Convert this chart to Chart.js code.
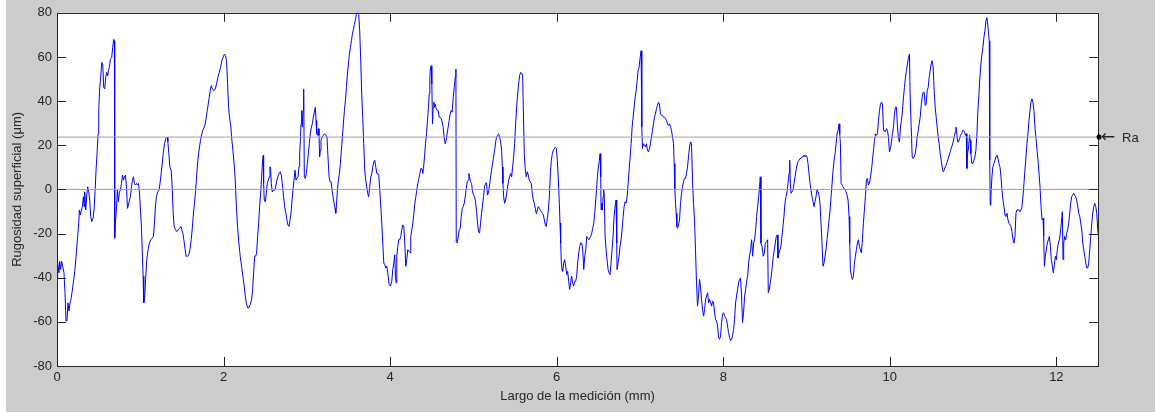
<!DOCTYPE html>
<html>
<head>
<meta charset="utf-8">
<script src="https://cdn.jsdelivr.net/npm/chart.js@4.4.0/dist/chart.umd.min.js"></script>
<style>
  html, body { margin: 0; padding: 0; background: #fff; }
  canvas { display: block; }
</style>
</head>
<body>
<canvas id="perfil" width="1155" height="413"></canvas>
<script>
// ---------------- datos del perfil (x en mm, y en µm) ----------------
const xA = [0.000,0.008,0.024,0.032,0.044,0.056,0.068,0.084,
  0.096,0.108,0.120,0.132,0.144,0.156,0.168,0.180,
  0.196,0.216,0.232,0.248,0.261,0.269,0.281,0.293,
  0.305,0.317,0.325,0.333,0.345,0.357,0.369,0.381,
  0.393,0.405,0.417,0.433,0.445,0.457,0.469,0.481,
  0.493,0.501,0.513,0.525,0.537,0.549,0.561,0.573,
  0.585,0.597,0.609,0.617,0.629,0.641,0.657,0.669,
  0.681,0.689,0.693,0.701,0.713,0.725,0.737,0.749,
  0.762,0.774,0.786,0.798,0.810,0.822,0.834,0.846,
  0.858,0.870,0.882,0.894,0.906,0.918,0.930,0.942,
  0.954,0.966,0.978,0.990,1.002,1.014,1.026,1.034,
  1.042,1.054,1.066,1.078,1.094,1.110,1.126,1.142,
  1.158,1.170,1.182,1.194,1.210,1.226,1.242,1.259,
  1.275,1.291,1.307,1.323,1.331,1.343,1.355,1.371,
  1.383,1.395,1.407,1.423,1.439,1.455,1.471,1.487,
  1.499,1.511,1.523,1.539,1.551,1.567,1.583,1.599,
  1.611,1.623,1.635,1.651,1.663,1.679,1.695,1.711,
  1.723,1.739,1.751,1.767,1.780,1.792,1.804,1.816,
  1.828,1.840,1.852,1.868,1.884,1.900,1.916,1.932,
  1.948,1.964,1.980,2.000,2.012,2.024,2.036,2.048,
  2.060,2.072,2.088,2.100,2.112,2.128,2.140];
const yA = [-40.8,-33.3,-37.8,-32.6,-36.3,-32.6,-34.8,-37.8,
  -46.8,-59.6,-59.6,-51.4,-55.1,-51.4,-49.8,-46.8,
  -42.3,-36.3,-28.8,-21.3,-15.3,-9.3,-11.6,-9.3,
  -7.8,-3.3,-7.8,-1.1,-9.3,-2.6,1.2,-1.1,
  -4.8,-12.3,-14.6,-13.1,-9.3,-1.1,8.7,16.2,
  25.2,35.7,46.2,50.8,57.5,56.8,46.2,45.5,
  50.8,53.0,51.5,53.8,55.3,59.0,59.8,64.3,
  68.0,67.3,-22.1,-15.3,-9.3,-0.3,-5.6,-1.1,
  -0.3,2.7,6.5,4.2,5.7,6.5,1.2,-8.6,
  -7.1,-4.8,-3.3,1.2,4.2,5.7,2.7,2.0,
  2.7,2.0,2.7,-1.1,-9.3,-16.8,-30.3,-39.3,
  -51.4,-48.3,-39.3,-31.8,-27.3,-24.3,-22.8,-22.1,
  -21.3,-15.3,-7.8,-3.3,-1.1,-0.3,4.2,10.2,
  16.2,20.7,23.0,23.7,21.5,16.2,10.2,8.7,
  1.2,-10.8,-16.8,-18.3,-19.1,-18.3,-17.6,-16.8,
  -18.3,-19.8,-22.8,-27.3,-30.3,-30.3,-29.6,-26.6,
  -22.8,-18.3,-12.3,-6.3,-1.1,7.2,14.7,19.2,
  22.2,25.2,26.7,28.2,29.7,32.7,35.7,38.7,
  41.7,44.7,47.0,45.5,44.7,45.5,47.7,50.8,
  53.0,55.3,58.3,60.5,61.3,60.5,58.3,48.5,
  37.2,32.7,28.2,22.2,17.7,11.0,4.2];

const xB = [2.152,2.168,2.184,2.200,2.216,2.232,2.248,2.261,
  2.273,2.289,2.305,2.321,2.337,2.349,2.361,2.373,
  2.385,2.397,2.409,2.421,2.433,2.445,2.457,2.469,
  2.477,2.481,2.489,2.501,2.513,2.525,2.537,2.549,
  2.557,2.565,2.573,2.585,2.601,2.617,2.629,2.641,
  2.653,2.665,2.681,2.693,2.705,2.721,2.733,2.749,
  2.761,2.773,2.786,2.798,2.810,2.822,2.834,2.846,
  2.858,2.870,2.882,2.894,2.906,2.914,2.922,2.930,
  2.938,2.946,2.954,2.962,2.970,2.982,2.994,3.006,
  3.018,3.030,3.042,3.054,3.066,3.078,3.090,3.102,
  3.110,3.118,3.130,3.138,3.146,3.154,3.162,3.170,
  3.182,3.198,3.214,3.230,3.242,3.254,3.267,3.279,
  3.291,3.303,3.315,3.327,3.339,3.347,3.355,3.367,
  3.379,3.391,3.403,3.415,3.427,3.439,3.451,3.463,
  3.475,3.487,3.499,3.511,3.523,3.535,3.547,3.559,
  3.571,3.583,3.595,3.607,3.623,3.635,3.647,3.659,
  3.671,3.683,3.695,3.707,3.719,3.731,3.743,3.755,
  3.768,3.780,3.792,3.804,3.816,3.828,3.840,3.852,
  3.864,3.876,3.888,3.900,3.912,3.924,3.936,3.948,
  3.960,3.972,3.988,4.004,4.020,4.032,4.044,4.056,
  4.064,4.072,4.080,4.092,4.104,4.116,4.128,4.140,
  4.152,4.164,4.176,4.188,4.200,4.212,4.228,4.244];
const yB = [-6.3,-16.8,-24.3,-30.3,-34.8,-39.3,-43.8,-48.3,
  -51.4,-53.6,-53.6,-52.1,-49.8,-45.3,-37.8,-30.3,
  -30.3,-28.8,-21.3,-15.3,-7.8,-1.8,5.7,13.2,
  15.5,2.7,-4.8,-5.6,-1.8,2.7,4.2,5.7,
  10.2,9.5,2.7,-1.1,-0.3,-0.3,2.0,4.2,
  5.7,7.2,8.0,6.5,2.7,-3.3,-7.8,-10.8,
  -13.8,-16.1,-16.8,-13.8,-10.8,-4.8,-0.3,4.2,
  8.7,4.2,5.0,5.7,10.2,16.2,22.2,29.7,
  35.7,28.2,35.7,45.5,5.7,5.0,7.2,11.7,
  16.2,20.7,25.2,28.2,29.7,32.7,35.0,37.2,
  31.2,25.2,24.5,27.5,24.5,14.7,17.7,22.2,
  23.7,24.5,25.2,24.5,23.7,14.7,5.7,3.5,
  3.5,-0.3,-3.3,-6.3,-8.6,-10.8,-7.8,-0.3,
  4.2,7.2,11.7,17.7,23.7,29.7,35.7,40.2,
  46.2,52.3,56.8,61.3,64.3,67.3,70.3,72.5,
  74.8,77.0,79.3,80.5,79.3,71.8,58.3,43.2,
  32.7,20.7,8.7,4.2,1.2,-1.8,-3.3,1.2,
  5.7,7.2,10.2,12.5,13.2,10.2,7.2,7.2,
  6.5,-0.3,-7.8,-15.3,-24.3,-33.3,-34.1,-35.6,
  -34.8,-37.8,-43.1,-43.8,-41.6,-36.3,-33.3,-29.6,
  -39.3,-42.3,-30.3,-25.8,-22.8,-22.8,-21.3,-18.3,
  -16.1,-16.8,-24.3,-34.8,-31.8,-27.3,-28.1,-28.8];

const xC = [4.248,4.261,4.273,4.285,4.297,4.309,4.321,4.333,
  4.345,4.357,4.369,4.381,4.393,4.401,4.413,4.425,
  4.437,4.449,4.461,4.469,4.477,4.485,4.493,4.501,
  4.509,4.517,4.525,4.533,4.541,4.553,4.565,4.577,
  4.589,4.601,4.613,4.625,4.637,4.649,4.661,4.673,
  4.685,4.697,4.709,4.721,4.733,4.745,4.758,4.770,
  4.782,4.790,4.794,4.806,4.818,4.830,4.842,4.854,
  4.866,4.878,4.890,4.902,4.914,4.926,4.938,4.946,
  4.954,4.966,4.978,4.990,5.002,5.014,5.026,5.038,
  5.050,5.062,5.074,5.086,5.098,5.110,5.122,5.134,
  5.146,5.158,5.170,5.182,5.194,5.206,5.218,5.230,
  5.242,5.255,5.267,5.279,5.291,5.303,5.315,5.327,
  5.339,5.347,5.355,5.363,5.375,5.387,5.399,5.411,
  5.423,5.435,5.447,5.459,5.471,5.483,5.495,5.507,
  5.519,5.531,5.543,5.555,5.567,5.579,5.591,5.599,
  5.611,5.623,5.635,5.647,5.659,5.671,5.683,5.695,
  5.707,5.719,5.731,5.743,5.756,5.768,5.780,5.792,
  5.804,5.816,5.828,5.840,5.852,5.864,5.876,5.888,
  5.900,5.912,5.924,5.936,5.948,5.960,5.972,5.984,
  5.996,6.008,6.020,6.032,6.040,6.048,6.056,6.064,
  6.072,6.084,6.096,6.108,6.120,6.132,6.144,6.156,
  6.168,6.180,6.192,6.204,6.216,6.228,6.240,6.252,
  6.265,6.277,6.289,6.301,6.313,6.325,6.337,6.349];
const yC = [-21.3,-18.3,-15.3,-10.8,-6.3,-3.3,-0.3,2.7,
  5.0,7.2,9.5,9.5,7.2,9.5,14.7,20.7,
  25.2,31.2,37.2,43.2,50.8,55.3,56.0,47.7,
  29.7,37.2,39.5,37.2,38.7,36.5,35.7,35.7,
  32.7,32.7,32.0,30.5,28.2,23.7,20.7,22.2,
  25.2,28.2,31.2,34.2,35.7,35.0,41.7,46.2,
  50.8,54.5,-23.6,-24.3,-21.3,-18.3,-17.6,-12.3,
  -8.6,-7.8,-6.3,-3.3,0.5,3.5,4.2,7.2,
  5.7,3.5,2.7,-1.1,-2.6,-3.3,-5.6,-10.1,
  -15.3,-19.1,-19.8,-15.3,-10.8,-7.1,-3.3,1.2,
  2.7,3.0,-2.6,-1.1,2.0,5.7,8.7,11.7,
  14.7,17.7,21.5,23.7,24.5,25.2,23.7,21.5,
  17.7,10.2,2.7,-3.3,-6.3,-4.8,-1.8,1.2,
  4.2,5.7,7.2,5.7,10.2,14.7,20.7,29.7,
  37.2,43.2,47.7,51.5,53.0,52.3,52.3,37.2,
  16.2,8.7,5.7,8.0,6.5,4.2,3.5,2.7,
  -1.8,-4.8,-6.3,-8.6,-11.1,-9.3,-7.8,-8.6,
  -9.3,-10.1,-10.8,-11.6,-13.8,-16.1,-16.8,-13.1,
  -9.3,-3.3,7.2,13.2,16.2,17.7,18.5,19.2,
  18.5,13.2,4.2,-6.3,-15.3,-24.3,-33.3,-36.3,
  -37.1,-33.3,-31.8,-34.8,-38.6,-37.1,-41.6,-45.3,
  -42.3,-39.3,-42.3,-43.8,-41.6,-41.6,-39.3,-33.3,
  -28.8,-25.8,-24.3,-24.3,-27.3,-36.3,-30.3,-27.3];

const xD = [6.361,6.373,6.385,6.397,6.409,6.421,6.433,6.445,
  6.457,6.469,6.481,6.489,6.501,6.513,6.521,6.529,
  6.533,6.541,6.549,6.557,6.565,6.573,6.581,6.593,
  6.605,6.617,6.629,6.641,6.653,6.665,6.677,6.689,
  6.701,6.713,6.721,6.725,6.737,6.749,6.761,6.773,
  6.785,6.798,6.810,6.822,6.834,6.846,6.858,6.870,
  6.882,6.894,6.906,6.918,6.930,6.942,6.954,6.966,
  6.978,6.990,7.002,7.014,7.022,7.030,7.042,7.054,
  7.066,7.078,7.090,7.102,7.114,7.126,7.138,7.150,
  7.162,7.174,7.186,7.198,7.210,7.222,7.234,7.246,
  7.259,7.271,7.283,7.295,7.307,7.319,7.331,7.343,
  7.355,7.367,7.379,7.391,7.403,7.411,7.419,7.427,
  7.435,7.443,7.451,7.463,7.475,7.487,7.499,7.511,
  7.523,7.535,7.547,7.559,7.571,7.583,7.595,7.607,
  7.619,7.631,7.643,7.655,7.667,7.679,7.691,7.703,
  7.715,7.727,7.739,7.752,7.764,7.776,7.788,7.800,
  7.812,7.824,7.836,7.848,7.860,7.872,7.884,7.896,
  7.908,7.920,7.932,7.944,7.956,7.968,7.980,7.992,
  8.004,8.016,8.028,8.040,8.052,8.064,8.076,8.088,
  8.100,8.112,8.124,8.136,8.148,8.160,8.172,8.184,
  8.196,8.208,8.220,8.232,8.244,8.257,8.269,8.281,
  8.293,8.305,8.317,8.329,8.341,8.353,8.365,8.377,
  8.389,8.401,8.413,8.425,8.437,8.445];
const yD = [-21.3,-22.1,-22.8,-22.1,-21.3,-19.8,-17.6,-15.3,
  -10.8,-4.8,1.2,5.7,10.2,13.2,16.2,5.7,
  -9.3,-6.3,-9.3,-3.3,-0.3,-4.8,-21.3,-27.3,
  -31.8,-36.3,-37.8,-38.6,-33.3,-27.3,-21.3,-12.3,
  -7.8,-4.8,-24.3,-36.3,-33.3,-30.3,-25.8,-22.8,
  -18.3,-12.3,-7.8,-5.6,-6.3,-3.3,2.7,8.7,
  14.7,20.7,28.2,32.7,37.2,41.7,44.7,49.2,
  53.8,55.3,59.8,62.8,28.2,18.5,20.7,20.0,
  19.2,20.7,17.7,17.0,18.5,20.7,23.7,26.7,
  29.7,32.7,34.2,36.5,38.0,39.5,38.7,34.2,
  33.5,33.5,32.7,32.7,32.0,31.2,29.7,29.0,
  29.7,28.2,26.7,23.7,20.7,11.7,-0.3,-6.3,
  -10.8,-16.8,-17.6,-16.1,-13.8,-6.3,-1.8,1.2,
  3.5,5.0,5.0,7.2,10.2,14.7,19.2,21.5,
  20.7,4.2,-6.3,-13.8,-27.3,-42.3,-52.9,-48.3,
  -40.8,-43.8,-49.8,-54.4,-57.4,-54.4,-49.8,-48.3,
  -46.8,-51.4,-49.8,-51.4,-52.9,-50.6,-51.4,-55.9,
  -58.9,-59.6,-61.9,-67.1,-67.9,-66.4,-60.4,-56.6,
  -55.9,-57.4,-58.1,-58.9,-61.9,-64.9,-67.1,-68.6,
  -67.9,-66.4,-63.4,-58.9,-51.4,-48.3,-45.3,-42.3,
  -40.8,-40.1,-48.3,-60.4,-55.9,-48.3,-45.3,-41.6,
  -39.3,-33.3,-29.6,-27.3,-22.8,-30.3,-24.3,-22.8,
  -18.3,-12.3,-7.8,-3.3,1.2,5.7];

const xE = [8.453,8.465,8.481,8.493,8.505,8.521,8.533,8.541,
  8.553,8.565,8.577,8.589,8.601,8.613,8.625,8.637,
  8.649,8.657,8.669,8.681,8.693,8.705,8.717,8.729,
  8.741,8.754,8.766,8.778,8.790,8.798,8.806,8.814,
  8.826,8.838,8.850,8.862,8.874,8.886,8.898,8.910,
  8.922,8.934,8.946,8.958,8.970,8.982,8.994,9.006,
  9.018,9.030,9.042,9.054,9.066,9.078,9.090,9.102,
  9.114,9.126,9.138,9.150,9.162,9.174,9.186,9.198,
  9.210,9.222,9.234,9.246,9.259,9.271,9.283,9.295,
  9.307,9.319,9.331,9.343,9.355,9.367,9.379,9.391,
  9.399,9.407,9.415,9.427,9.439,9.451,9.463,9.475,
  9.487,9.499,9.511,9.519,9.527,9.539,9.551,9.563,
  9.575,9.587,9.599,9.611,9.623,9.635,9.647,9.659,
  9.671,9.683,9.695,9.707,9.719,9.731,9.743,9.756,
  9.768,9.780,9.792,9.804,9.816,9.828,9.840,9.852,
  9.864,9.876,9.888,9.900,9.912,9.924,9.936,9.948,
  9.960,9.972,9.984,9.996,10.008,10.020,10.032,10.044,
  10.056,10.068,10.080,10.092,10.104,10.116,10.128,10.140,
  10.152,10.164,10.176,10.188,10.200,10.212,10.224,10.236,
  10.244,10.257,10.269,10.281,10.293,10.305,10.317,10.329,
  10.341,10.353,10.365,10.377,10.389,10.401,10.413,10.425,
  10.437];
const yE = [-24.3,-25.8,-30.3,-28.8,-24.3,-23.6,-22.8,-46.8,
  -45.3,-42.3,-39.3,-34.8,-30.3,-27.3,-24.3,-21.3,
  -20.6,-31.1,-28.8,-27.3,-25.8,-21.3,-16.8,-12.3,
  -6.3,-3.3,-1.1,2.7,7.2,13.2,2.7,-1.8,
  -1.1,-0.3,2.7,5.7,8.7,11.0,12.5,13.2,
  14.0,14.0,14.7,14.7,15.5,14.7,15.5,14.7,
  11.7,7.2,2.7,-0.3,-3.3,-5.6,-7.8,-5.6,
  -3.3,-0.3,-1.1,-2.6,-6.3,-15.3,-24.3,-34.8,
  -33.3,-30.3,-27.3,-22.8,-18.3,-13.8,-9.3,-3.3,
  2.7,8.7,13.2,16.2,20.7,25.2,26.7,29.7,
  25.2,20.7,2.7,2.0,1.2,0.5,-0.3,-1.1,
  -2.6,-4.8,-12.3,-24.3,-36.3,-39.3,-40.8,-39.3,
  -33.3,-30.3,-27.3,-24.3,-22.8,-25.8,-27.3,-28.8,
  -22.8,-15.3,-9.3,-3.3,4.2,5.0,2.0,2.7,
  5.7,8.7,13.2,17.7,22.2,25.2,24.5,25.2,
  31.2,35.7,38.7,39.5,38.7,26.7,26.7,26.0,
  27.5,26.7,23.7,17.0,18.5,21.5,25.2,28.2,
  34.2,37.2,37.2,28.2,23.0,21.5,28.2,31.2,
  35.7,41.7,46.2,50.8,53.8,56.8,59.8,61.3,
  43.2,28.2,14.7,14.0,14.7,16.2,19.2,23.7,
  26.7,29.7,32.7,38.0,41.7,44.0,44.0,38.0,
  38.7];

const xF = [10.449,10.461,10.473,10.485,10.497,10.509,10.521,10.533,
  10.545,10.557,10.569,10.581,10.593,10.605,10.617,10.629,
  10.641,10.653,10.665,10.677,10.689,10.701,10.713,10.725,
  10.737,10.749,10.761,10.773,10.786,10.794,10.802,10.814,
  10.826,10.838,10.850,10.862,10.874,10.886,10.898,10.910,
  10.918,10.926,10.934,10.946,10.958,10.966,10.974,10.986,
  10.998,11.010,11.022,11.034,11.046,11.058,11.070,11.082,
  11.094,11.106,11.118,11.130,11.142,11.154,11.166,11.178,
  11.186,11.194,11.198,11.202,11.206,11.214,11.226,11.238,
  11.250,11.263,11.275,11.287,11.299,11.311,11.323,11.335,
  11.347,11.359,11.371,11.383,11.395,11.407,11.419,11.431,
  11.443,11.455,11.467,11.479,11.491,11.503,11.515,11.527,
  11.539,11.551,11.563,11.575,11.587,11.599,11.611,11.623,
  11.635,11.647,11.659,11.671,11.683,11.695,11.707,11.719,
  11.731,11.743,11.756,11.768,11.780,11.792,11.804,11.816,
  11.828,11.840,11.848,11.856,11.868,11.880,11.892,11.904,
  11.916,11.928,11.940,11.952,11.964,11.976,11.988,12.000,
  12.012,12.024,12.036,12.048,12.060,12.072,12.080,12.088,
  12.100,12.112,12.124,12.136,12.148,12.160,12.172,12.184,
  12.196,12.208,12.220,12.232,12.244,12.257,12.269,12.281,
  12.293,12.305,12.317,12.329,12.341,12.353,12.365,12.377,
  12.389,12.401,12.413,12.425,12.437,12.449,12.461,12.473,
  12.485,12.497,12.505];
const yF = [44.7,46.2,50.8,53.8,56.8,58.3,55.3,44.7,
  37.2,32.7,28.2,23.7,20.7,16.2,13.2,10.2,
  8.0,8.7,10.2,11.0,12.5,14.0,15.5,17.0,
  18.5,20.0,21.5,23.7,26.0,28.2,26.7,21.5,
  21.5,23.0,24.5,25.2,26.7,26.7,26.0,24.5,
  25.2,9.5,16.2,19.2,24.5,22.2,16.2,11.7,
  11.7,13.2,14.7,17.7,25.2,35.7,43.2,50.8,
  56.8,61.3,64.3,68.8,71.8,76.3,77.8,74.0,
  70.3,67.3,35.7,13.2,-7.1,-3.3,5.7,10.2,
  11.7,13.2,14.7,15.5,14.0,11.7,10.2,5.7,
  -0.3,-4.8,-7.8,-11.6,-12.3,-10.8,-13.8,-15.3,
  -16.1,-16.8,-19.1,-22.8,-24.3,-21.3,-10.8,-9.3,
  -9.3,-9.3,-10.1,-9.3,-7.8,-3.3,2.7,8.7,
  14.7,20.7,25.2,31.2,35.7,39.5,41.0,39.5,
  35.7,28.2,23.0,17.7,13.2,7.2,1.2,-7.8,
  -13.8,-13.1,-21.3,-34.8,-30.3,-27.3,-24.3,-22.8,
  -21.3,-25.8,-31.8,-34.8,-37.8,-34.1,-30.3,-31.8,
  -27.3,-24.3,-22.8,-19.8,-15.3,-10.1,-31.8,-24.3,
  -21.3,-22.8,-19.8,-18.3,-15.3,-10.8,-6.3,-3.3,
  -2.6,-1.8,-2.6,-3.3,-4.8,-7.8,-10.8,-12.3,
  -15.3,-18.3,-24.3,-27.3,-30.3,-33.3,-35.6,-35.6,
  -33.3,-27.3,-21.3,-15.3,-10.8,-7.8,-6.3,-7.8,
  -10.8,-18.3,-20.6];

// rugosidad media y ejes
const raValue = 23.7;
const xLimits = [0, 12.5];
const yLimits = [-80, 80];
const xTickStep = 2;
const yTickStep = 20;

const positions = [].concat(xA, xB, xC, xD, xE, xF);
const heights = [].concat(yA, yB, yC, yD, yE, yF);
const profilePoints = positions.map((x, i) => ({ x: x, y: heights[i] }));

function flatLine(value) {
    return [{ x: xLimits[0], y: value }, { x: xLimits[1], y: value }];
}

// ---------------- estilo tipo matlab ----------------
const textColor = '#262626';
const frameColor = '#262626';

const matlabFrame = {
    id: 'matlabFrame',
    beforeDraw(chart) {
        const { ctx, chartArea: a, width, height } = chart;
        ctx.save();
        ctx.fillStyle = '#ffffff';
        ctx.fillRect(0, 0, width, height);
        ctx.fillStyle = '#cccccc';
        ctx.fillRect(6, 0, width - 6, height - 1);
        ctx.fillStyle = '#ffffff';
        ctx.fillRect(a.left, a.top, a.right - a.left, a.bottom - a.top);
        ctx.restore();
    },
    afterDraw(chart) {
        const { ctx, chartArea: a } = chart;
        const xs = chart.scales.x;
        const ys = chart.scales.y;
        const len = 9;
        ctx.save();
        ctx.strokeStyle = frameColor;
        ctx.lineWidth = 1;
        ctx.beginPath();
        xs.ticks.forEach(t => {
            const px = Math.round(xs.getPixelForValue(t.value)) + 0.5;
            ctx.moveTo(px, a.bottom);
            ctx.lineTo(px, a.bottom - len);
            ctx.moveTo(px, a.top);
            ctx.lineTo(px, a.top + len);
        });
        ys.ticks.forEach(t => {
            const py = Math.round(ys.getPixelForValue(t.value)) + 0.5;
            ctx.moveTo(a.left, py);
            ctx.lineTo(a.left + len, py);
            ctx.moveTo(a.right, py);
            ctx.lineTo(a.right - len, py);
        });
        ctx.stroke();
        ctx.strokeRect(Math.round(a.left) + 0.5, Math.round(a.top) + 0.5,
            Math.round(a.right - a.left), Math.round(a.bottom - a.top));

        // marca Ra a la derecha
        const yRa = ys.getPixelForValue(raValue);
        ctx.fillStyle = '#000000';
        ctx.beginPath();
        ctx.arc(a.right + 1, yRa, 2.5, 0, Math.PI * 2);
        ctx.fill();
        ctx.fillStyle = textColor;
        ctx.textBaseline = 'middle';
        ctx.textAlign = 'left';
        ctx.font = '17px "DejaVu Sans"';
        ctx.fillText('\u2190', a.right + 3, yRa);
        ctx.font = '13px "Liberation Sans", Arial, sans-serif';
        ctx.fillText('Ra', a.right + 24, yRa + 1);
        ctx.restore();
    }
};

Chart.defaults.font.family = '"Liberation Sans", Arial, sans-serif';
Chart.defaults.font.size = 13;
Chart.defaults.color = textColor;

const ctx = document.getElementById('perfil').getContext('2d');
const perfilChart = new Chart(ctx, {
    type: 'line',
    data: {
        datasets: [
            {
                label: 'Perfil',
                data: profilePoints,
                borderColor: '#0000ff',
                borderWidth: 1,
                pointRadius: 0,
                tension: 0,
                order: 3
            },
            {
                label: 'Ra a',
                data: flatLine(raValue),
                borderColor: '#d78aa6',
                borderWidth: 1,
                borderDash: [2, 2],
                pointRadius: 0,
                order: 1
            },
            {
                label: 'Ra b',
                data: flatLine(raValue),
                borderColor: '#7fae86',
                borderWidth: 1,
                borderDash: [2, 2],
                borderDashOffset: 2,
                pointRadius: 0,
                order: 1
            },
            {
                label: 'Cero a',
                data: flatLine(0),
                borderColor: '#d78aa6',
                borderWidth: 1,
                borderDash: [2, 2],
                pointRadius: 0,
                order: 1
            },
            {
                label: 'Cero b',
                data: flatLine(0),
                borderColor: '#7fae86',
                borderWidth: 1,
                borderDash: [2, 2],
                borderDashOffset: 2,
                pointRadius: 0,
                order: 1
            }
        ]
    },
    options: {
        responsive: false,
        animation: false,
        layout: { padding: { left: 0, right: 57, top: 12, bottom: 0 } },
        plugins: {
            legend: { display: false },
            tooltip: { enabled: false }
        },
        scales: {
            x: {
                type: 'linear',
                min: xLimits[0],
                max: xLimits[1],
                grid: { display: false, drawTicks: false },
                border: { display: false },
                ticks: { stepSize: xTickStep, includeBounds: false, padding: 4, maxRotation: 0 },
                title: {
                    display: true,
                    text: 'Largo de la medición (mm)',
                    padding: { top: 0, bottom: 9 }
                },
                afterFit: s => { s.height = 47; }
            },
            y: {
                type: 'linear',
                min: yLimits[0],
                max: yLimits[1],
                grid: { display: false, drawTicks: false },
                border: { display: false },
                ticks: { stepSize: yTickStep, padding: 5 },
                title: {
                    display: true,
                    text: 'Rugosidad superficial (μm)',
                    padding: { top: 10, bottom: 0 }
                },
                afterFit: s => { s.width = 57; }
            }
        }
    },
    plugins: [matlabFrame]
});
</script>
</body>
</html>
